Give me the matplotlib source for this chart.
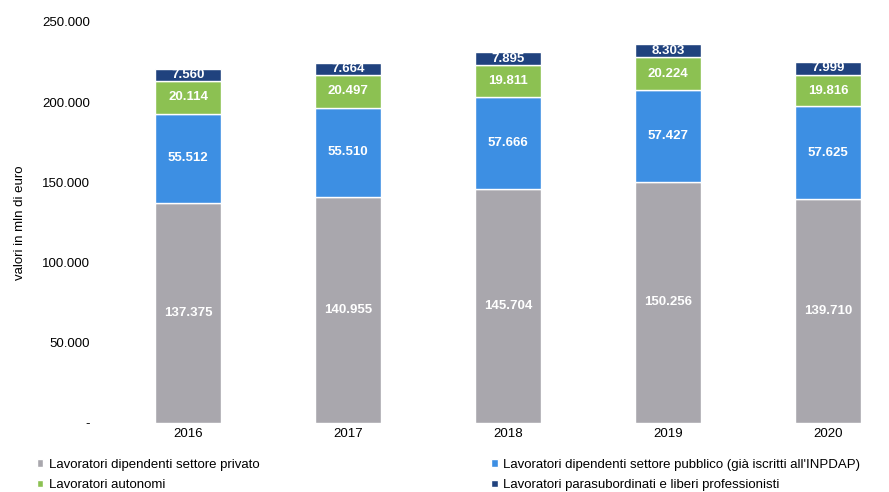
import numpy as np
import matplotlib.pyplot as plt
from matplotlib.ticker import FuncFormatter

plt.rcParams["font.family"] = "Liberation Sans"

years = ["2016", "2017", "2018", "2019", "2020"]
privato = [137375, 140955, 145704, 150256, 139710]
pubblico = [55512, 55510, 57666, 57427, 57625]
autonomi = [20114, 20497, 19811, 20224, 19816]
parasub = [7560, 7664, 7895, 8303, 7999]

labels = [
    "Lavoratori dipendenti settore privato",
    "Lavoratori dipendenti settore pubblico (già iscritti all'INPDAP)",
    "Lavoratori autonomi",
    "Lavoratori parasubordinati e liberi professionisti",
]
colors = ["#a9a7ad", "#3d8fe3", "#8cc152", "#20427e"]


def it_fmt(v):
    return f"{v:,.0f}".replace(",", ".")


fig = plt.figure(figsize=(8.89, 4.92), dpi=100)
ax = fig.add_axes([108 / 889, 69 / 492, 1 - 108 / 889, 401 / 492])

x = np.arange(len(years))
bottom = np.zeros(len(years))
handles = []
for vals, col, lab in zip([privato, pubblico, autonomi, parasub], colors, labels):
    vals = np.array(vals)
    b = ax.bar(x, vals, 0.41, bottom=bottom, color=col, edgecolor="white",
               linewidth=1, label=lab)
    handles.append(b)
    for xi, bi, vi in zip(x, bottom, vals):
        ax.text(xi, bi + vi / 2, it_fmt(vi), ha="center", va="center",
                color="white", fontsize=9.5, fontweight="bold")
    bottom += vals

ax.set_xlim(-0.5, 4.38)
ax.set_ylim(0, 250000)
ax.set_yticks(np.arange(0, 250001, 50000))
ax.yaxis.set_major_formatter(FuncFormatter(lambda v, p: "-" if v == 0 else it_fmt(v)))
ax.set_xticks(x)
ax.set_xticklabels(years)
ax.tick_params(length=0, labelsize=9.5)
ax.tick_params(axis="y", pad=13)
for s in ax.spines.values():
    s.set_visible(False)
ax.set_ylabel("valori in mln di euro", fontsize=9.5)
ax.yaxis.set_label_coords(-0.105, 0.5)

order = [0, 2, 1, 3]
fig.legend([handles[i] for i in order], [labels[i] for i in order],
           loc="lower left", bbox_to_anchor=(0.028, -0.022), ncol=2,
           frameon=False, fontsize=9.5, handlelength=0.5, handleheight=0.5,
           handletextpad=0.4, columnspacing=17.6, labelspacing=0.62)

fig.savefig("out.png", dpi=100)
